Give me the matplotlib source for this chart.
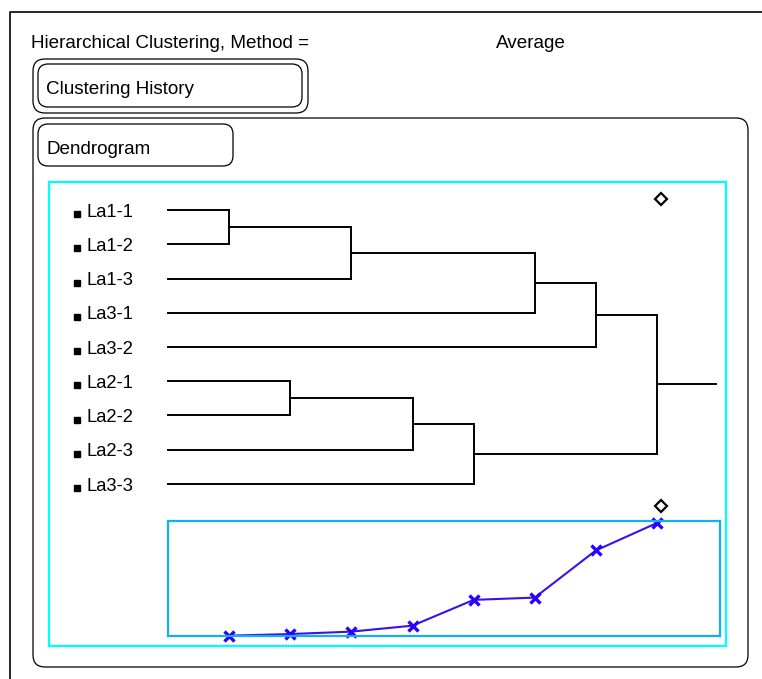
import matplotlib
matplotlib.use("Agg")
import matplotlib.pyplot as plt
from matplotlib.patches import FancyBboxPatch

plt.rcParams['font.family'] = ['Liberation Sans', 'DejaVu Sans']

# leaves in dendrogram order, top to bottom
leaves = ["La1-1", "La1-2", "La1-3", "La3-1", "La3-2", "La2-1", "La2-2", "La2-3", "La3-3"]
# join history: pairs of cluster ids (leaves 0..8, new clusters 9..16)
merges = [(0, 1), (5, 6), (9, 2), (10, 7), (12, 8), (11, 3), (14, 4), (15, 13)]
# distance at each join (scree plot)
join_dist = [0.3, 1.7, 3.8, 9.0, 31.4, 33.4, 74.4, 98.3]

W, H = 762, 679
fig = plt.figure(figsize=(W / 100, H / 100), dpi=100)

# page furniture in pixel coords
bg = fig.add_axes([0, 0, 1, 1], zorder=-1)
bg.set_xlim(0, W)
bg.set_ylim(H, 0)
bg.axis("off")
bg.plot([10, 10, W], [H, 12, 12], color="black", lw=1.2)
bg.text(31, 43, "Hierarchical Clustering, Method =", fontsize=13.6, va="center")
bg.text(496, 43, "Average", fontsize=13.6, va="center")


def rbox(x0, y0, x1, y1, r, lw=0.9):
    bg.add_patch(FancyBboxPatch((x0, y0), x1 - x0, y1 - y0,
                                boxstyle=f"round,pad=0,rounding_size={r}",
                                fc="none", ec="black", lw=lw))


rbox(33, 59, 308, 113, 12)
rbox(38, 64, 302, 107, 10)
bg.text(46, 89, "Clustering History", fontsize=13.6, va="center")
rbox(33, 118, 748, 667, 12)
rbox(38, 124, 233, 166, 10)
bg.text(46, 149, "Dendrogram", fontsize=13.6, va="center")
for yy in (199, 506):
    bg.plot(661, yy, marker="D", ms=6.5, mfc="white", mec="black", mew=1.6)

# dendrogram
step_px = 61.125
row_px = 34.25
ax = fig.add_axes([49 / W, 1 - 646 / H, 677 / W, 464 / H])
ax.set_xlim(-(168 - 49) / step_px, (726 - 168) / step_px)
ax.set_ylim((646 - 210) / row_px, -(210 - 182) / row_px)
ax.set_xticks([])
ax.set_yticks([])
ax.set_facecolor("none")
for s in ax.spines.values():
    s.set_color("#00ffff")
    s.set_linewidth(1.6)

pos = {i: (0, i) for i in range(len(leaves))}
for k, (a, b) in enumerate(merges):
    step = k + 1
    for c in (a, b):
        x0, y0 = pos[c]
        ax.plot([x0, step], [y0, y0], color="black", lw=1.4)
    ax.plot([step, step], [pos[a][1], pos[b][1]], color="black", lw=1.4)
    pos[len(leaves) + k] = (step, (pos[a][1] + pos[b][1]) / 2)
root_x, root_y = pos[len(leaves) + len(merges) - 1]
ax.plot([root_x, root_x + 0.97], [root_y, root_y], color="black", lw=1.4)

for i, name in enumerate(leaves):
    ax.plot(-1.49, i + 0.12, "s", ms=3.8, color="black")
    ax.text(-1.33, i + 0.06, name, fontsize=13.2, va="center")

# scree plot
sc = fig.add_axes([168 / W, 1 - 636 / H, (720 - 168) / W, (636 - 521) / H])
sc.set_xlim(0, (720 - 168) / step_px)
sc.set_ylim(0, 100)
sc.set_xticks([])
sc.set_yticks([])
sc.set_facecolor("none")
for s in sc.spines.values():
    s.set_color("#12b0ec")
    s.set_linewidth(1.6)
steps = list(range(1, len(join_dist) + 1))
sc.plot(steps, join_dist, color="#3a10f0", lw=1.5, marker="x", ms=7, mew=2.4,
        mec="#2a00ff", clip_on=False)

fig.savefig("out.png", dpi=100)
